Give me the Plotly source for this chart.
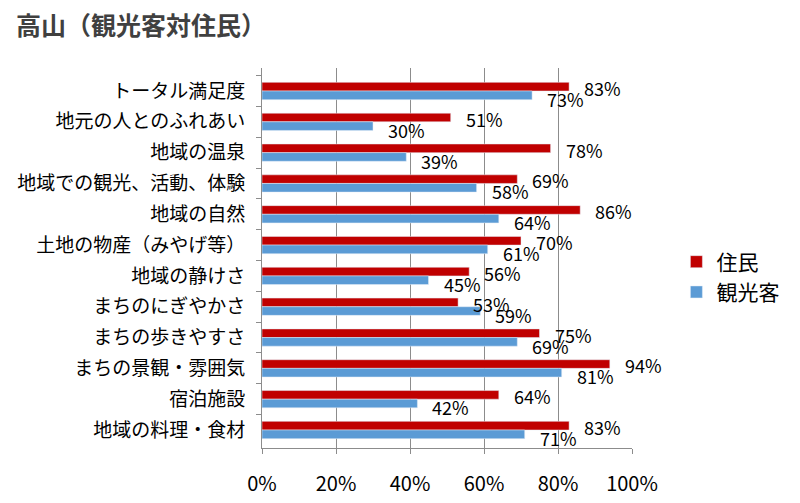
import plotly.graph_objects as go

categories = [
    "トータル満足度",
    "地元の人とのふれあい",
    "地域の温泉",
    "地域での観光、活動、体験",
    "地域の自然",
    "土地の物産（みやげ等）",
    "地域の静けさ",
    "まちのにぎやかさ",
    "まちの歩きやすさ",
    "まちの景観・雰囲気",
    "宿泊施設",
    "地域の料理・食材",
]
residents = [83, 51, 78, 69, 86, 70, 56, 53, 75, 94, 64, 83]
tourists = [73, 30, 39, 58, 64, 61, 45, 59, 69, 81, 42, 71]
series_names = ["住民", "観光客"]
x_ticks = [0, 20, 40, 60, 80, 100]
x_tick_labels = ["0%", "20%", "40%", "60%", "80%", "100%"]

FONT = "Noto Sans CJK JP"
RED = "#C00000"
BLUE = "#5B9BD5"
GRID = "#8C8C8C"

fig = go.Figure()
fig.add_trace(go.Bar(y=categories, x=residents, orientation="h", name=series_names[0],
                     marker_color=RED, legendgroup="a"))
fig.add_trace(go.Bar(y=categories, x=tourists, orientation="h", name=series_names[1],
                     marker_color=BLUE, legendgroup="b"))

annotations = []
for c, v in zip(categories, residents):
    annotations.append(dict(x=v, y=c, xref="x", yref="y", text=f"{v}%", showarrow=False,
                            xanchor="left", yanchor="middle", xshift=13, yshift=3,
                            font=dict(family=FONT, size=18, color="#000000")))
for c, v in zip(categories, tourists):
    annotations.append(dict(x=v, y=c, xref="x", yref="y", text=f"{v}%", showarrow=False,
                            xanchor="left", yanchor="middle", xshift=13, yshift=-8,
                            font=dict(family=FONT, size=18, color="#000000")))

fig.update_layout(
    width=800, height=503,
    margin=dict(l=262, r=168, t=68, b=55),
    paper_bgcolor="white", plot_bgcolor="white",
    barmode="group", bargap=0.44, bargroupgap=0,
    font=dict(family=FONT, color="#000000"),
    title=dict(text="高山（観光客対住民）", x=16/800, xanchor="left",
               xref="container", yref="container", y=1-26/503, yanchor="middle",
               font=dict(family=FONT, size=25, color="#404040", weight=600)),
    legend=dict(x=1.12, y=0.45, xanchor="left", yanchor="middle", traceorder="normal",
                tracegroupgap=22, font=dict(family=FONT, size=21, color="#000000"),
                bgcolor="rgba(0,0,0,0)"),
    annotations=annotations,
    xaxis=dict(range=[0, 100], tickvals=x_ticks, ticktext=x_tick_labels, showgrid=True,
               gridcolor=GRID, gridwidth=1, showline=True, linecolor=GRID, linewidth=1,
               ticks="outside", ticklen=5, tickcolor=GRID, zeroline=False,
               ticklabelstandoff=13, automargin=False,
               tickfont=dict(family=FONT, size=20, color="#000000")),
    yaxis=dict(autorange="reversed", showline=True, linecolor=GRID, linewidth=1,
               ticks="outside", ticklen=5, tickcolor=GRID, tickson="boundaries",
               showgrid=False, ticklabelstandoff=12, automargin=False,
               tickfont=dict(family=FONT, size=19, color="#000000")),
)

fig.write_html("out.html")
